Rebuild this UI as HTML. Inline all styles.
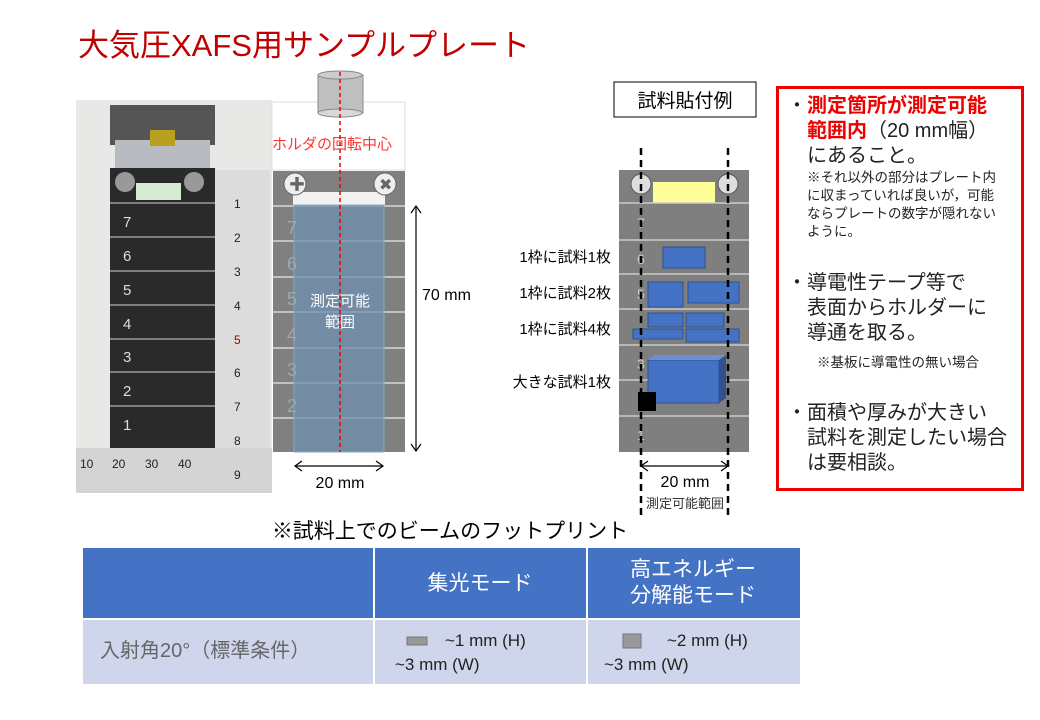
<!DOCTYPE html><html><head><meta charset="utf-8"><style>
body{margin:0;width:1040px;height:720px;background:#fff;overflow:hidden;font-family:"Liberation Sans","Noto Sans CJK JP",sans-serif}
svg{position:absolute;left:0;top:0}
.t{font-family:"Liberation Sans","Noto Sans CJK JP",sans-serif}
#rb{position:absolute;left:776px;top:86px;width:242px;height:399px;border:3px solid #e00;font-size:20px;line-height:25px;color:#222}
</style></head><body>
<svg width="1040" height="720" class="t">
<text x="78" y="56" font-size="31" fill="#c00000">大気圧XAFS用サンプルプレート</text>
<!-- photo -->
<rect x="76" y="100" width="196" height="393" fill="#e8e8e6"/>
<rect x="110" y="105" width="105" height="40" fill="#555"/>
<rect x="115" y="140" width="95" height="30" fill="#b8bcc0"/>
<rect x="150" y="130" width="25" height="16" fill="#b8a020"/>
<rect x="110" y="168" width="105" height="280" fill="#2a2a2a"/>
<rect x="136" y="183" width="45" height="17" fill="#d6ecd2"/>
<circle cx="125" cy="182" r="10" fill="#999"/><circle cx="194" cy="182" r="10" fill="#999"/>
<g stroke="#999" stroke-width="1.5"><line x1="110" y1="203" x2="215" y2="203"/><line x1="110" y1="237" x2="215" y2="237"/><line x1="110" y1="271" x2="215" y2="271"/><line x1="110" y1="305" x2="215" y2="305"/><line x1="110" y1="339" x2="215" y2="339"/><line x1="110" y1="372" x2="215" y2="372"/><line x1="110" y1="406" x2="215" y2="406"/></g>
<g fill="#ddd" font-size="15"><text x="123" y="227">7</text><text x="123" y="261">6</text><text x="123" y="295">5</text><text x="123" y="329">4</text><text x="123" y="362">3</text><text x="123" y="396">2</text><text x="123" y="430">1</text></g>
<rect x="215" y="170" width="55" height="323" fill="#dcdcdc"/>
<rect x="76" y="448" width="196" height="45" fill="#d4d4d4"/>
<g font-size="12" fill="#222"><text x="80" y="468">10</text><text x="112" y="468">20</text><text x="145" y="468">30</text><text x="178" y="468">40</text><text x="234" y="208">1</text><text x="234" y="242">2</text><text x="234" y="276">3</text><text x="234" y="310">4</text><text x="234" y="344" fill="#a00">5</text><text x="234" y="377">6</text><text x="234" y="411">7</text><text x="234" y="445">8</text><text x="234" y="479">9</text></g>
<!-- schematic -->
<rect x="272" y="102" width="133" height="68" fill="#fff" stroke="#ddd"/>
<rect x="318" y="75" width="45" height="38" fill="#bfbfbf" stroke="#888"/>
<ellipse cx="340" cy="75" rx="22" ry="4" fill="#ccc" stroke="#888"/>
<ellipse cx="340" cy="113" rx="22" ry="4" fill="#d8d8d8" stroke="#888"/>
<text x="272" y="149" font-size="15" fill="#f33">ホルダの回転中心</text>
<rect x="273" y="171" width="132" height="281" fill="#808080"/>
<rect x="293" y="192" width="92" height="13" fill="#f2f2f2"/>
<circle cx="295" cy="184" r="11" fill="#eee" stroke="#666"/><circle cx="385" cy="184" r="11" fill="#eee" stroke="#666"/>
<text x="289" y="190" font-size="16" fill="#666">✚</text><text x="379" y="190" font-size="16" fill="#666">✖</text>
<g stroke="#d8d8d8" stroke-width="1.5"><line x1="273" y1="206" x2="405" y2="206"/><line x1="273" y1="241" x2="405" y2="241"/><line x1="273" y1="277" x2="405" y2="277"/><line x1="273" y1="312" x2="405" y2="312"/><line x1="273" y1="348" x2="405" y2="348"/><line x1="273" y1="383" x2="405" y2="383"/><line x1="273" y1="418" x2="405" y2="418"/></g>
<rect x="294" y="205" width="90" height="247" fill="#6f8faf" fill-opacity="0.75" stroke="#8ab"/>
<g fill="#9aa8b8" font-size="18"><text x="287" y="234">7</text><text x="287" y="270">6</text><text x="287" y="305">5</text><text x="287" y="341">4</text><text x="287" y="376">3</text><text x="287" y="412">2</text></g>
<text x="340" y="306" font-size="15" fill="#fff" text-anchor="middle">測定可能</text>
<text x="340" y="327" font-size="15" fill="#fff" text-anchor="middle">範囲</text>
<line x1="340" y1="72" x2="340" y2="452" stroke="#e00" stroke-dasharray="4,3" stroke-width="1.5"/>
<g stroke="#000" stroke-width="1.2" fill="none"><line x1="416" y1="206" x2="416" y2="451"/><path d="M411 213 L416 206 L421 213 M411 444 L416 451 L421 444"/><line x1="295" y1="466" x2="383" y2="466"/><path d="M302 461 L295 466 L302 471 M376 461 L383 466 L376 471"/></g>
<text x="422" y="300" font-size="16">70 mm</text>
<text x="340" y="488" font-size="16" text-anchor="middle">20 mm</text>
<!-- right diagram -->
<rect x="614" y="82" width="142" height="35" fill="#fff" stroke="#000"/>
<text x="685" y="107" font-size="19" text-anchor="middle">試料貼付例</text>
<rect x="619" y="170" width="130" height="282" fill="#7f7f7f"/>
<rect x="653" y="182" width="62" height="21" fill="#ffff99"/>
<circle cx="641" cy="184" r="10" fill="#ddd" stroke="#555"/><circle cx="728" cy="184" r="10" fill="#ddd" stroke="#555"/>
<g stroke="#ccc" stroke-width="1.5"><line x1="619" y1="203" x2="749" y2="203"/><line x1="619" y1="240" x2="749" y2="240"/><line x1="619" y1="274" x2="749" y2="274"/><line x1="619" y1="309" x2="749" y2="309"/><line x1="619" y1="345" x2="749" y2="345"/><line x1="619" y1="380" x2="749" y2="380"/><line x1="619" y1="416" x2="749" y2="416"/></g>
<g fill="#ccc" font-size="14"><text x="637" y="228">7</text><text x="637" y="264">6</text><text x="637" y="299">5</text><text x="637" y="369">3</text><text x="637" y="440">1</text></g>
<g fill="#4472c4" stroke="#2f528f"><rect x="663" y="247" width="42" height="21"/><rect x="648" y="282" width="35" height="25"/><rect x="688" y="282" width="51" height="21"/><rect x="648" y="313" width="35" height="14"/><rect x="686" y="313" width="38" height="14"/><rect x="633" y="329" width="50" height="10"/><rect x="686" y="329" width="53" height="13"/><rect x="648" y="360" width="71" height="43"/></g>
<polygon points="648,360 655,355 726,355 719,360" fill="#6a8fd6"/><polygon points="719,360 726,355 726,398 719,403" fill="#2f528f"/>
<rect x="638" y="392" width="18" height="19" fill="#000"/>
<g stroke="#000" stroke-width="2.5" stroke-dasharray="7,5"><line x1="641" y1="148" x2="641" y2="520"/><line x1="728" y1="148" x2="728" y2="520"/></g>
<g stroke="#000" stroke-width="1.2" fill="none"><line x1="641" y1="466" x2="728" y2="466"/><path d="M648 461 L641 466 L648 471 M721 461 L728 466 L721 471"/></g>
<text x="685" y="487" font-size="16" text-anchor="middle">20 mm</text>
<text x="685" y="508" font-size="13" text-anchor="middle" fill="#333">測定可能範囲</text>
<g font-size="15" text-anchor="end"><text x="611" y="262">1枠に試料1枚</text><text x="611" y="298">1枠に試料2枚</text><text x="611" y="334">1枠に試料4枚</text><text x="611" y="387">大きな試料1枚</text></g>
<!-- table -->
<text x="450" y="538" font-size="21" text-anchor="middle">※試料上でのビームのフットプリント</text>
<rect x="83" y="548" width="717" height="70" fill="#4472c4"/>
<rect x="83" y="620" width="717" height="64" fill="#cfd5ea"/>
<g stroke="#fff" stroke-width="2"><line x1="374" y1="548" x2="374" y2="684"/><line x1="587" y1="548" x2="587" y2="684"/><line x1="83" y1="619" x2="800" y2="619"/></g>
<g fill="#fff" font-size="21" text-anchor="middle"><text x="480" y="590">集光モード</text><text x="693" y="576">高エネルギー</text><text x="693" y="602">分解能モード</text></g>
<text x="100" y="657" font-size="20" fill="#666">入射角20°（標準条件）</text>
<rect x="407" y="637" width="20" height="8" fill="#999" stroke="#777"/>
<rect x="623" y="634" width="18" height="14" fill="#999" stroke="#777"/>
<g font-size="17" fill="#222"><text x="445" y="646">~1 mm (H)</text><text x="395" y="670">~3 mm (W)</text><text x="667" y="646">~2 mm (H)</text><text x="604" y="670">~3 mm (W)</text></g>
</svg>
<div id="rb">
<div style="padding:5px 0 0 8px">・<b style="color:#e00">測定箇所が測定可能</b><br><span style="padding-left:20px"><b style="color:#e00">範囲内</b>（20 mm幅）</span><br><span style="padding-left:20px">にあること。</span>
<div style="font-size:13.5px;line-height:18px;margin-left:20px;width:200px">※それ以外の部分はプレート内に収まっていれば良いが，可能ならプレートの数字が隠れないように。</div>
<div style="margin-top:30px">・導電性テープ等で<br><span style="padding-left:20px">表面からホルダーに</span><br><span style="padding-left:20px">導通を取る。</span></div>
<div style="font-size:13.5px;padding-left:30px;margin-top:4px">※基板に導電性の無い場合</div>
<div style="margin-top:26px">・面積や厚みが大きい<br><span style="padding-left:20px">試料を測定したい場合</span><br><span style="padding-left:20px">は要相談。</span></div>
</div></div>
</body></html>
